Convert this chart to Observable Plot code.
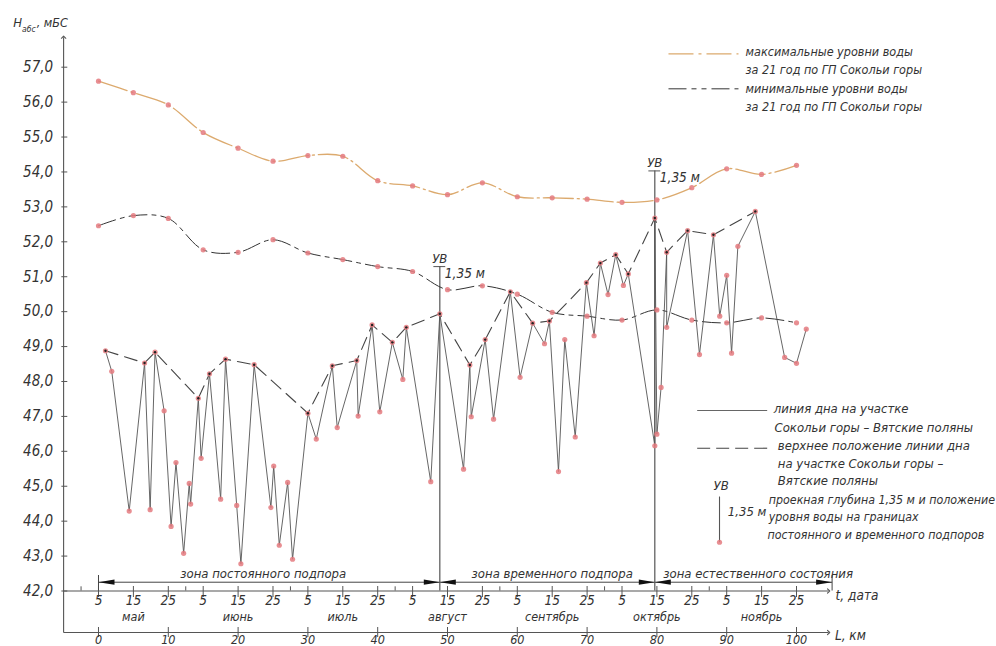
<!DOCTYPE html>
<html><head><meta charset="utf-8">
<script src="https://cdn.jsdelivr.net/npm/d3@7"></script>
<script src="https://cdn.jsdelivr.net/npm/@observablehq/plot@0.6"></script>
<style>body{margin:0;background:#fff}#chart{width:996px;height:646px;overflow:hidden}</style>
</head><body><div id="chart"></div>
<script>
// ---------- data ----------
// Bed line, Sokolyi Gory – Vyatskie Polyany (km, m BS)
const bedKm = [1.0,1.9,4.4,6.6,7.4,8.1,9.4,10.4,11.1,12.2,13.0,13.2,14.3,14.7,15.9,17.5,18.2,19.8,20.4,22.3,24.7,25.1,25.9,27.1,27.8,30.0,31.2,33.5,34.2,37.0,37.2,39.2,40.3,42.1,43.6,44.1,47.6,48.9,52.3,53.2,53.4,55.4,56.6,59.0,60.4,62.2,63.9,64.6,65.9,66.8,68.3,69.9,71.0,71.9,73.0,74.1,75.2,75.9,79.7,79.7,80.0,80.6,81.4,81.4,84.4,86.1,88.1,89.0,90.0,90.7,91.6,94.1,98.3,100.0,101.4];
const bedH = [48.88,48.29,44.29,48.53,44.33,48.84,47.16,43.85,45.68,43.08,45.08,44.49,47.52,45.80,48.22,44.63,48.64,44.45,42.78,48.48,44.39,45.58,43.31,45.11,42.91,47.09,46.35,48.45,46.68,48.60,47.01,49.62,47.13,49.12,48.06,49.55,45.13,49.94,45.49,48.47,46.99,49.20,46.92,50.57,48.12,49.67,49.08,49.73,45.42,49.20,46.41,50.83,49.31,51.39,50.49,51.63,50.75,51.08,46.16,52.68,46.49,47.83,51.70,49.55,52.32,48.77,52.20,49.87,51.04,48.81,51.87,52.87,48.69,48.52,49.50];
// Upper position of the bed line
const crestKm = [1.0,6.6,8.1,14.3,15.9,18.2,22.3,30.0,33.5,37.0,39.2,42.1,44.1,48.9,53.2,55.4,59.0,62.2,64.6,69.9,71.9,74.1,75.9,79.7,81.4,84.4,88.1,94.1];
const crestH = [48.88,48.53,48.84,47.52,48.22,48.64,48.48,47.09,48.45,48.60,49.62,49.12,49.55,49.94,48.47,49.20,50.57,49.67,49.73,50.83,51.39,51.63,51.08,52.68,51.70,52.32,52.20,52.87];
// Max / min water levels over 21 years (gauge Sokolyi Gory)
const levelKm = [0,5,10,15,20,25,30,35,40,45,50,55,60,65,70,75,80,85,90,95,100];
const maxH = [56.60,56.27,55.92,55.13,54.68,54.31,54.47,54.45,53.75,53.60,53.35,53.69,53.29,53.26,53.22,53.13,53.20,53.55,54.09,53.93,54.19];
const minH = [52.46,52.75,52.67,51.77,51.70,52.06,51.68,51.49,51.29,51.15,50.63,50.74,50.50,49.98,49.87,49.76,50.05,49.76,49.68,49.82,49.68];
// Design depth markers (УВ)
const uvKm = [48.9, 79.7];
const uvBedH = [49.94, 52.68];
const designDepth = 1.35;
// Zones
const zoneBounds = [0, 48.9, 79.7, 105.1];
const zoneLabels = ["зона постоянного подпора", "зона временного подпора", "зона естественного состояния"];
const zoneLabelKm = [23.6, 65.0, 94.5];
// Axes
const hTicks = [42,43,44,45,46,47,48,49,50,51,52,53,54,55,56,57];
const dateTickKm = [0,5,10,15,20,25,30,35,40,45,50,55,60,65,70,75,80,85,90,95,100];
const dateTickLabels = ["5","15","25","5","15","25","5","15","25","5","15","25","5","15","25","5","15","25","5","15","25"];
const monthEdgeKm = [-2.5,12.5,27.5,42.5,57.5,72.5,87.5];
const monthKm = [5,20,35,50,65,80,95];
const monthLabels = ["май","июнь","июль","август","сентябрь","октябрь","ноябрь"];
const kmTicks = [0,10,20,30,40,50,60,70,80,90,100];
const kmTickLabels = ["0","10","20","30","40","50","60","70","80","90","100"];

// ---------- layout ----------
const X0 = -14.04, X1 = 128.653, Y0 = 40.411, Y1 = 58.910;
const AX = -5.0, KM_H = 40.812, AEND = 104.6, YTOP = 57.86, ZONE_H = 42.252;
const ink = "#333", axInk = "#555", pink = "#e47a7f", tan = "#dcaa6e";
const FONT = "'DejaVu Sans Condensed','DejaVu Sans',sans-serif";

const bed = bedKm.map((k,i)=>({k, h: bedH[i]}));
const crest = crestKm.map((k,i)=>({k, h: crestH[i]}));
const maxL = levelKm.map((k,i)=>({k, h: maxH[i]}));
const minL = levelKm.map((k,i)=>({k, h: minH[i]}));
const uv = uvKm.map((k,i)=>({k, bed: uvBedH[i], top: uvBedH[i] + designDepth}));

const seg = (x1,y1,x2,y2,o={}) => Plot.link([{x1,y1,x2,y2}], {x1:"x1",y1:"y1",x2:"x2",y2:"y2",stroke:axInk,strokeWidth:1.1,...o});
const txt = (items, o={}) => Plot.text(items, {x:"x", y:"y", text:"t", fill: ink, fontSize: 13, textAnchor:"start", ...o});
const headRight = {draw(c){c.moveTo(0,0);c.lineTo(-16,-2.6);c.lineTo(-16,2.6);c.closePath();}};
const headLeft = {draw(c){c.moveTo(0,0);c.lineTo(16,-2.6);c.lineTo(16,2.6);c.closePath();}};
const fmt = d => d.toFixed(1).replace(".", ",");

const chart = Plot.plot({
  width: 996, height: 646, margin: 0,
  x: {domain: [X0, X1], axis: null},
  y: {domain: [Y0, Y1], axis: null},
  style: {fontFamily: FONT, fontStyle: "italic", background: "#fff", color: ink},
  marks: [
    // axes
    seg(AX, KM_H, AX, YTOP, {markerEnd: "arrow"}),
    seg(AX, 42, AEND, 42, {markerEnd: "arrow"}),
    seg(AX, KM_H, AEND, KM_H, {markerEnd: "arrow"}),
    Plot.ruleY(hTicks, {y: d=>d, x1: ()=>-5.25, x2: ()=>-4.4, stroke: axInk}),
    Plot.text(hTicks, {x: ()=>-6.5, y: d=>d, text: fmt, textAnchor: "end", fontSize: 15, fill: ink}),
    Plot.ruleX(dateTickKm, {x: d=>d, y1: ()=>41.814, y2: ()=>42.129, stroke: axInk}),
    Plot.ruleX(monthEdgeKm, {x: d=>d, y1: ()=>42, y2: ()=>42.12, stroke: axInk}),
    Plot.text(dateTickKm, {x: d=>d, y: ()=>41.715, text: (d,i)=>dateTickLabels[i], fontSize: 13.5, fill: ink}),
    Plot.text(monthKm, {x: d=>d, y: ()=>41.27, text: (d,i)=>monthLabels[i], fontSize: 12.5, fill: ink}),
    Plot.ruleX(kmTicks, {x: d=>d, y1: ()=>40.668, y2: ()=>40.955, stroke: axInk}),
    Plot.text(kmTicks, {x: d=>d, y: ()=>40.60, text: (d,i)=>kmTickLabels[i], fontSize: 12.5, fill: ink}),
    txt([{x:-12.2, y:58.28, t:"H"}], {fontSize: 13}),
    txt([{x:-10.95, y:58.10, t:"абс"}], {fontSize: 8.5}),
    txt([{x:-8.85, y:58.28, t:", мБС"}], {fontSize: 12.5}),
    txt([{x:105.6, y:41.87, t:"t, дата"}], {fontSize: 13.5}),
    txt([{x:105.5, y:40.73, t:"L, км"}], {fontSize: 13.5}),
    // zones
    seg(zoneBounds[0], ZONE_H, zoneBounds[3], ZONE_H, {stroke: "#444", strokeWidth: 1}),
    Plot.ruleX([zoneBounds[0], zoneBounds[3]], {x: d=>d, y1: ()=>42, y2: ()=>42.444, stroke: "#444"}),
    Plot.dot(zoneBounds.slice(1), {x: d=>d, y: ()=>ZONE_H, symbol: headRight, fill: "#111", stroke: "none", r: 3}),
    Plot.dot(zoneBounds.slice(0,3), {x: d=>d, y: ()=>ZONE_H, symbol: headLeft, fill: "#111", stroke: "none", r: 3}),
    Plot.text(zoneLabels, {x: (d,i)=>zoneLabelKm[i], y: ()=>42.50, text: d=>d, fontSize: 13, fill: ink}),
    // УВ markers
    Plot.ruleX(uv, {x: "k", y1: ()=>42, y2: "top", stroke: "#555", strokeWidth: 1.2}),
    Plot.ruleY(uv, {y: "top", x1: d=>d.k-0.85, x2: d=>d.k+0.85, stroke: "#555", strokeWidth: 1}),
    Plot.text(uv, {x: "k", y: "top", dy: -8, text: ()=>"УВ", fontSize: 13, fill: ink}),
    Plot.text(uv, {x: "k", y: "top", dx: 5, dy: 7, text: ()=>"1,35 м", textAnchor: "start", fontSize: 13.5, fill: ink}),
    // data lines
    Plot.line(maxL, {x: "k", y: "h", stroke: tan, strokeWidth: 1.3, strokeDasharray: "30,4,2,4", curve: "catmull-rom"}),
    Plot.line(minL, {x: "k", y: "h", stroke: "#333", strokeWidth: 1, strokeDasharray: "18,5,4,5", curve: "catmull-rom"}),
    Plot.line(bed, {x: "k", y: "h", stroke: "#555", strokeWidth: 0.9}),
    Plot.line(crest, {x: "k", y: "h", stroke: "#444", strokeWidth: 1.1, strokeDasharray: "13,7"}),
    Plot.dot(maxL, {x: "k", y: "h", r: 2.6, fill: pink, fillOpacity: 0.85}),
    Plot.dot(minL, {x: "k", y: "h", r: 2.6, fill: pink, fillOpacity: 0.85}),
    Plot.dot(bed, {x: "k", y: "h", r: 2.6, fill: pink, fillOpacity: 0.85}),
    Plot.dot(crest, {x: "k", y: "h", r: 1.2, fill: "#222"}),
    // legend (top right)
    seg(81.66, 57.384, 91.69, 57.384, {stroke: tan, strokeWidth: 1.3, strokeDasharray: "25,5,3,5"}),
    seg(81.66, 56.381, 91.69, 56.381, {stroke: "#333", strokeWidth: 1, strokeDasharray: "18,5,5,5,5,5"}),
    txt([{x:92.7, y:57.43, t:"максимальные уровни воды"},
         {x:92.7, y:56.906, t:"за 21 год по ГП Сокольи горы"},
         {x:92.7, y:56.381, t:"минимальные уровни воды"},
         {x:92.7, y:55.855, t:"за 21 год по ГП Сокольи горы"}], {fontSize: 12.5}),
    // legend (bottom right)
    seg(85.77, 47.169, 95.80, 47.169, {stroke: "#555", strokeWidth: 0.9}),
    seg(85.77, 46.089, 95.80, 46.089, {stroke: "#444", strokeWidth: 1.1, strokeDasharray: "13,6"}),
    txt([{x:96.75, y:47.218, t:"линия дна на участке"},
         {x:96.85, y:46.674, t:"Сокольи горы – Вятские поляны"},
         {x:97.32, y:46.167, t:"верхнее положение линии дна"},
         {x:97.32, y:45.643, t:"на участке Сокольи горы –"},
         {x:97.32, y:45.164, t:"Вятские поляны"}]),
    txt([{x:96.03, y:44.592, t:"проекная глубина 1,35 м и положение"},
         {x:96.03, y:44.113, t:"уровня воды на границах"},
         {x:95.85, y:43.589, t:"постоянного и временного подпоров"}], {fontSize: 12.3}),
    seg(88.97, 43.397, 88.97, 44.706, {stroke: "#555", strokeWidth: 1.1}),
    Plot.dot([{k:88.97, h:43.397}], {x: "k", y: "h", r: 2.6, fill: pink, fillOpacity: 0.85}),
    txt([{x:89.2, y:45.02, t:"УВ"}], {textAnchor: "middle", fontSize: 13}),
    txt([{x:90.16, y:44.257, t:"1,35 м"}], {fontSize: 13})
  ]
});
document.getElementById("chart").append(chart);
</script>
</body></html>
